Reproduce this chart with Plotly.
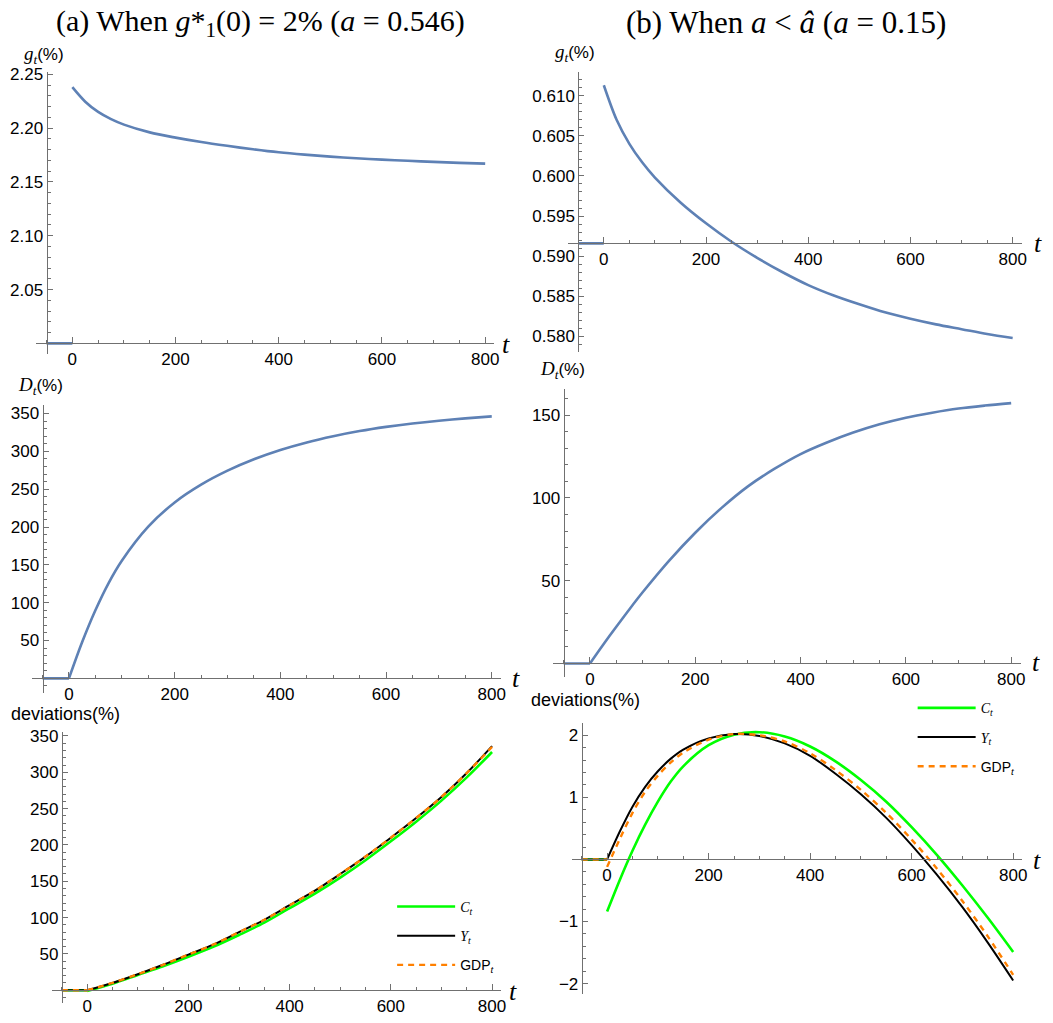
import plotly.graph_objects as go

W, H = 1053, 1023

# ---------------- data ----------------
t_pre = [-50, 0]
t_post = [0, 25, 50, 75, 100, 150, 200, 250, 300, 350, 400, 450, 500, 550, 600, 650, 700, 750, 800]

# (a) a = 0.546
g_a_pre = 2.0
g_a = [2.2380, 2.2245, 2.2150, 2.2083, 2.2032, 2.1960, 2.1911, 2.1870, 2.1835, 2.1803,
       2.1775, 2.1753, 2.1735, 2.1720, 2.1707, 2.1696, 2.1686, 2.1677, 2.1670]
D_a = [0, 48, 90, 126, 155.5, 200.5, 232.5, 256, 274.5, 289.5, 301.8, 311.8, 320, 326.8,
       332.3, 336.8, 340.5, 343.6, 346.2]

t_dev = [0, 50, 100, 150, 200, 250, 300, 350, 400, 450, 500, 550, 600, 650, 700, 750, 800]
C_a = [-1, 9, 21, 33, 46, 60, 76, 93, 113, 133, 155, 179, 205, 232, 261, 293, 328]
Y_a = [0, 10, 22, 35, 49, 63, 80, 97, 117, 137, 160, 184, 210, 237, 266, 299, 336]
GDP_a = [0, 10, 22, 35, 49, 63, 80, 97, 117, 137, 160, 184, 210, 237, 266, 299, 335]

# (b) a = 0.15
g_b_pre = 0.5916
g_b = [0.6113, 0.6070, 0.6040, 0.6017, 0.5998, 0.5967, 0.5941, 0.5918, 0.5898, 0.5880,
       0.5864, 0.5851, 0.5840, 0.5830, 0.5822, 0.5815, 0.5809, 0.5803, 0.5798]
D_b = [0, 11.3, 22.2, 32.8, 43, 62, 79, 94, 107, 117.5, 126.5, 133.5, 139.5, 144.5, 148.5,
       151.5, 154, 155.8, 157.3]

t_dev_b = [0, 25, 50, 75, 100, 125, 150, 200, 250, 300, 350, 400, 450, 500, 550, 600, 650, 700, 750, 800]
C_b = [-0.84, -0.33, 0.14, 0.56, 0.93, 1.25, 1.50, 1.84, 2.01, 2.05, 1.98, 1.82, 1.58, 1.28,
       0.93, 0.52, 0.07, -0.42, -0.94, -1.49]
Y_b = [0.0, 0.45, 0.85, 1.17, 1.42, 1.62, 1.77, 1.95, 2.02, 1.99, 1.87, 1.67, 1.38, 1.05,
       0.67, 0.23, -0.25, -0.77, -1.34, -1.95]
GDP_b = [-0.12, 0.33, 0.75, 1.09, 1.35, 1.56, 1.72, 1.93, 2.02, 2.00, 1.90, 1.71, 1.44, 1.12,
         0.75, 0.32, -0.15, -0.67, -1.24, -1.86]

x_ticks = [0, 200, 400, 600, 800]
yt_ga = [2.05, 2.10, 2.15, 2.20, 2.25]
yt_gb = [0.580, 0.585, 0.590, 0.595, 0.600, 0.605, 0.610]
yt_Da = [50, 100, 150, 200, 250, 300, 350]
yt_Db = [50, 100, 150]
yt_deva = [50, 100, 150, 200, 250, 300, 350]
yt_devb = [-2, -1, 1, 2]

title_a = "(a) When <i>g</i>*<sub>1</sub>(0) = 2% (<i>a</i> = 0.546)"
title_b = "(b) When <i>a</i> &lt; <i>â</i> (<i>a</i> = 0.15)"

BLUE = "#5E81B5"
AXC = "#707070"
SANS = "Liberation Sans"
SERIF = "Liberation Serif"

# ---------------- layout geometry (pixels) ----------------
# name: (px at t=0, px per t, x-range, y ref value, py of ref, py per unit, y-range, axis-cross y)
panels = {
    "A1": (72.7, 103.7 / 200, [-70, 818], 2.25, 67.7, 1084.0, [1.99, 2.252], 2.0),
    "B1": (606.7, 102.7 / 200, [-70, 818], 0.610, 89.3, 8080.0, [0.5781, 0.6129], g_b_pre),
    "A2": (69.3, 106.2 / 200, [-70, 818], 0.0, 676.0, 0.762, [-19, 361], 0.0),
    "B2": (592.8, 105.8 / 200, [-70, 818], 0.0, 661.0, 1.6667, [-8.4, 165.6], 0.0),
    "A3": (87.6, 101.7 / 200, [-70, 818], 0.0, 990.0, 0.7314, [-17, 356], 0.0),
    "B3": (610.0, 102.0 / 200, [-70, 818], 0.0, 858.3, 62.5, [-2.16, 2.2], 0.0),
}
order = ["A1", "B1", "A2", "B2", "A3", "B3"]
yticks = {"A1": (yt_ga, ".2f", 0.01), "B1": (yt_gb, ".3f", 0.001), "A2": (yt_Da, "d", 10),
          "B2": (yt_Db, "d", 10), "A3": (yt_deva, "d", 10), "B3": (yt_devb, "d", 0.2)}

fig = go.Figure()
layout = dict(width=W, height=H, margin=dict(l=0, r=0, t=0, b=0),
              paper_bgcolor="white", plot_bgcolor="white", showlegend=True)
axis_names = {}
for i, name in enumerate(order):
    px0, ppu, xr, yref, pyref, pypu, yr, ycross = panels[name]
    sfx = "" if i == 0 else str(i + 1)
    axis_names[name] = ("x" + sfx, "y" + sfx)
    xl = px0 + xr[0] * ppu
    xh = px0 + xr[1] * ppu
    ypx = lambda v: pyref - (v - yref) * pypu
    ydom = [1 - ypx(yr[0]) / H, 1 - ypx(yr[1]) / H]
    xdom = [xl / W, xh / W]
    xpos = 1 - ypx(ycross) / H
    ypos = (px0 - 50 * ppu) / W
    tv, fmt, mdt = yticks[name]
    layout["xaxis" + sfx] = dict(
        domain=xdom, range=xr, anchor="free", position=xpos, side="bottom",
        showline=True, linecolor=AXC, linewidth=1, showgrid=False, zeroline=False,
        tickvals=x_ticks, ticks="inside", ticklen=6, tickcolor=AXC, tickwidth=1,
        minor=dict(ticks="inside", ticklen=3.5, tickcolor=AXC, dtick=50, tick0=0, showgrid=False),
        tickfont=dict(family=SANS, size=17, color="black"), fixedrange=True)
    layout["yaxis" + sfx] = dict(
        domain=ydom, range=yr, anchor="free", position=ypos, side="left",
        showline=True, linecolor=AXC, linewidth=1, showgrid=False, zeroline=False,
        tickvals=tv, tickformat=fmt, ticks="inside", ticklen=5, tickcolor=AXC, tickwidth=1,
        minor=dict(ticks="inside", ticklen=3, tickcolor=AXC, dtick=mdt, tick0=0, showgrid=False),
        tickfont=dict(family=SANS, size=17, color="black"), fixedrange=True)

def seg(pre_val, post_t, post_v):
    return t_pre + [None] + post_t, [pre_val, pre_val] + [None] + post_v

def add_line(name, xs, ys, color, width, dash="solid", label=None, legend=None):
    xa, ya = axis_names[name]
    fig.add_trace(go.Scatter(
        x=xs, y=ys, mode="lines", xaxis=xa, yaxis=ya,
        line=dict(color=color, width=width, dash=dash, shape="spline", smoothing=0.9),
        name=label if label else "", showlegend=label is not None,
        legend=legend if legend else "legend", legendgroup=(legend or "") + (label or ""),
        hoverinfo="skip"))

# g panels
xs, ys = seg(g_a_pre, t_post, g_a); add_line("A1", xs, ys, BLUE, 2.6)
xs, ys = seg(g_b_pre, t_post, g_b); add_line("B1", xs, ys, BLUE, 2.6)
# D panels
xs, ys = seg(0, t_post, D_a); add_line("A2", xs, ys, BLUE, 2.6)
xs, ys = seg(0, t_post, D_b); add_line("B2", xs, ys, BLUE, 2.6)

lab_C = '<span style="font-family:Liberation Serif"><i>C<sub>t</sub></i></span>'
lab_Y = '<span style="font-family:Liberation Serif"><i>Y<sub>t</sub></i></span>'
lab_G = 'GDP<sub><i>t</i></sub>'
for name, tt, C, Y, G, lg in [("A3", t_dev, C_a, Y_a, GDP_a, "legend"),
                              ("B3", t_dev_b, C_b, Y_b, GDP_b, "legend2")]:
    xs, ys = seg(0, tt, C); add_line(name, xs, ys, "#00FF00", 2.6, label=lab_C, legend=lg)
    xs, ys = seg(0, tt, Y); add_line(name, xs, ys, "black", 2.0, label=lab_Y, legend=lg)
    xs, ys = seg(0, tt, G); add_line(name, xs, ys, "#FF8000", 2.4, dash="6px,5px", label=lab_G, legend=lg)

leg_common = dict(bgcolor="rgba(0,0,0,0)", font=dict(family=SANS, size=14, color="black"),
                  traceorder="grouped", tracegroupgap=8, itemwidth=58,
                  xanchor="left", yanchor="top")
layout["legend"] = dict(x=394 / W, y=1 - 890 / H, **leg_common)
layout["legend2"] = dict(x=917 / W, y=1 - 690 / H, **leg_common)

ann = []
def A(x, y, text, size, family=SANS, xanchor="center"):
    ann.append(dict(x=x / W, y=1 - y / H, xref="paper", yref="paper", text=text, showarrow=False,
                    xanchor=xanchor, yanchor="middle", font=dict(family=family, size=size, color="black")))

A(262, 16, title_a, 30, SERIF)
A(790, 16, title_b, 31, SERIF)
glab = '<span style="font-family:Liberation Serif;font-size:19px"><i>g<sub>t</sub></i></span>(%)'
Dlab = '<span style="font-family:Liberation Serif;font-size:19px"><i>D<sub>t</sub></i></span>(%)'
A(22, 48, glab, 17, xanchor="left")
A(556, 46, glab, 17, xanchor="left")
A(16, 382, Dlab, 17, xanchor="left")
A(541, 366, Dlab, 17, xanchor="left")
A(9, 712, "deviations(%)", 18, xanchor="left")
A(532, 698, "deviations(%)", 18, xanchor="left")
tl = '<i>t</i>'
A(508, 340, tl, 26, SERIF)
A(1043, 238, tl, 26, SERIF)
A(518, 676, tl, 26, SERIF)
A(1041, 660, tl, 26, SERIF)
A(515, 991, tl, 26, SERIF)
A(1042, 859, tl, 26, SERIF)
layout["annotations"] = ann

fig.update_layout(**layout)
fig.write_html("out.html")
